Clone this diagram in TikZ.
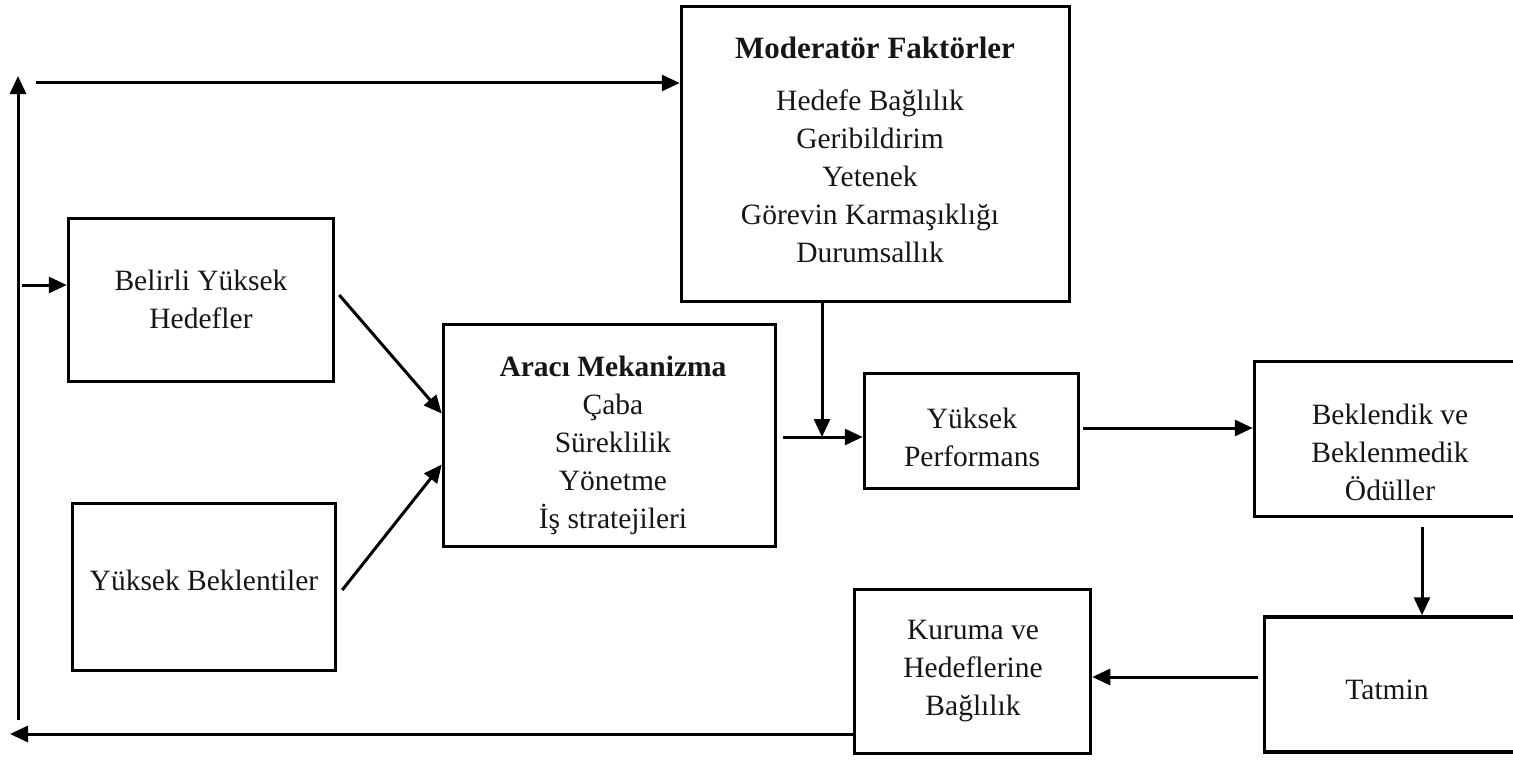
\documentclass[tikz,border=0pt]{standalone}
\usepackage{fontspec}
\setmainfont{Liberation Serif}
\usetikzlibrary{arrows.meta}
\definecolor{ink}{HTML}{161616}
\begin{document}
\begin{tikzpicture}[x=1pt,y=-1pt,
  box/.style={draw=black,line width=3.5pt,inner sep=0pt,fill=none},
  txt/.style={align=center,text=ink,inner sep=0pt,
    font=\fontsize{29.5}{38}\selectfont},
  ttl/.style={txt,font=\fontsize{31}{38}\selectfont\bfseries},
  arr/.style={line width=3pt,-{Triangle[length=18pt,width=16pt]}}]
\useasboundingbox (0,0) rectangle (1513,760);
\clip (0,0) rectangle (1513,760);

% boxes
\node[box,minimum width=388pt,minimum height=295pt] (mod) at (875.5,154) {};
\node[box,minimum width=265pt,minimum height=163pt] (bel) at (201,300) {};
\node[box,minimum width=263pt,minimum height=167pt] (bek) at (204,587) {};
\node[box,minimum width=332pt,minimum height=222pt] (arac) at (609.5,435.5) {};
\node[box,minimum width=214pt,minimum height=115pt] (yp) at (971.5,431) {};
\node[box,minimum width=273pt,minimum height=155pt] (odul) at (1391,439) {};
\node[box,minimum width=265pt,minimum height=135pt] (tat) at (1397,684.5) {};
\node[box,minimum width=236pt,minimum height=164pt] (kur) at (972.5,671.5) {};

% texts
\node[ttl] (modt) at (875,48) {Moderatör Faktörler};
\node[txt] (modl) at (870,176) {Hedefe Bağlılık\\Geribildirim\\Yetenek\\Görevin Karmaşıklığı\\Durumsallık};
\node[txt] (belt) at (201,299) {Belirli Yüksek\\Hedefler};
\node[txt] (bekt) at (204,580) {Yüksek Beklentiler};
\node[txt] (aract) at (613,445) {\textbf{Aracı Mekanizma}\\Çaba\\Süreklilik\\Yönetme\\İş stratejileri};
\node[txt] (ypt) at (972,437) {Yüksek\\Performans};
\node[txt] (odult) at (1390,452) {Beklendik ve\\Beklenmedik\\Ödüller};
\node[txt] (tatt) at (1387,690) {Tatmin};
\node[txt] (kurt) at (973,671) {Kuruma ve\\Hedeflerine\\Bağlılık};

% connector end points
\coordinate (vb) at (18,720);
\coordinate (vt) at (18,76);
\coordinate (ts) at (36,83);
\coordinate (bs) at (22,285);
\coordinate (be) at (10,734);
\coordinate (ja) at (783,437);
\coordinate (j) at (822,437);
\coordinate (pr) at (1083,428);
\coordinate (dv) at (1422,527);
\coordinate (tk) at (1258,677);

% feedback loop
\draw[arr] (vb) -- (vt);
\draw[arr] (ts) -- (ts -| mod.west);
\draw[arr] (bs) -- (bs -| bel.west);
\draw[arr] (be -| kur.west) -- (be);

% main flow
\draw[arr] ([xshift=4pt,yshift=5pt]bel.east) -- ([yshift=22pt]arac.west);
\draw[arr] ([xshift=5pt,yshift=-3pt]bek.east) -- ([yshift=-29pt]arac.west);
\draw[arr] (ja) -- (ja -| yp.west);
\draw[arr] (mod.south -| j) -- (j);
\draw[arr] (pr) -- (pr -| odul.west);
\draw[arr] (dv) -- (dv |- tat.north);
\draw[arr] (tk) -- (tk -| kur.east);
\end{tikzpicture}
\end{document}
